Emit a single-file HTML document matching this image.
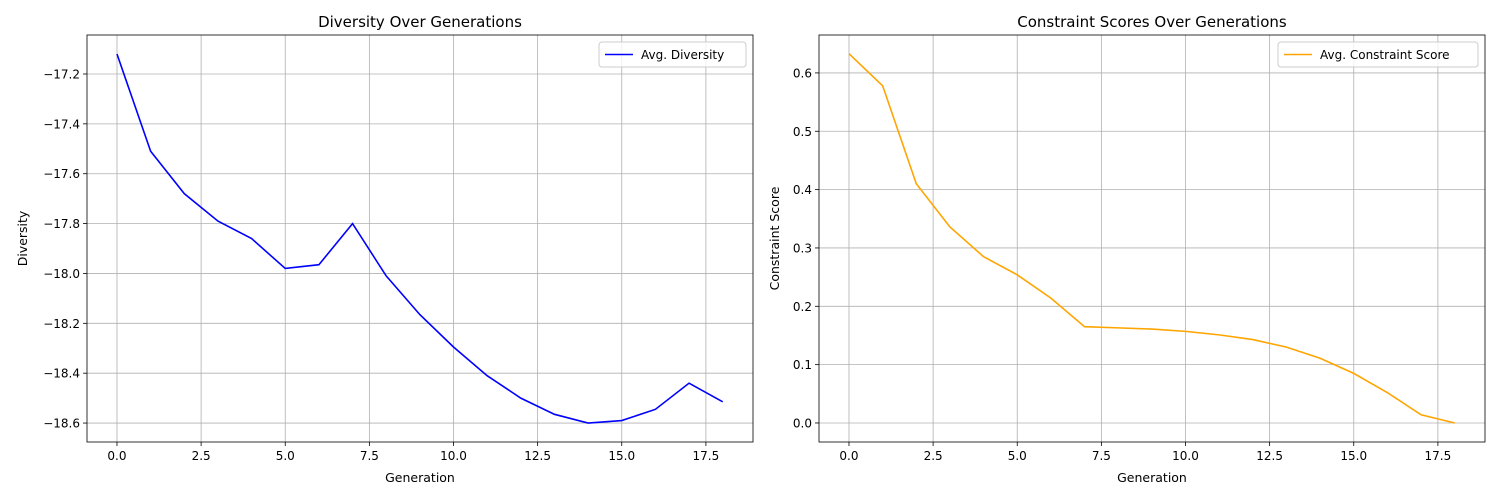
<!DOCTYPE html>
<html><head><meta charset="utf-8"><style>
body{margin:0;background:#fff;}
svg{display:block;font-family:"DejaVu Sans","Liberation Sans",sans-serif;}
</style></head><body>
<svg id="c" width="1500" height="500" viewBox="0 0 1500 500"></svg>
<script>
const generations=[0,1,2,3,4,5,6,7,8,9,10,11,12,13,14,15,16,17,18];
const diversity=[-17.12,-17.51,-17.68,-17.79,-17.86,-17.98,-17.965,-17.80,-18.01,-18.165,-18.295,-18.41,-18.50,-18.565,-18.60,-18.59,-18.545,-18.44,-18.515];
const constraint=[0.633,0.578,0.41,0.336,0.285,0.254,0.214,0.165,0.163,0.161,0.157,0.151,0.143,0.13,0.111,0.085,0.052,0.014,0.0];
const xTicks=[0,2.5,5,7.5,10,12.5,15,17.5];
const divTicks=[-17.2,-17.4,-17.6,-17.8,-18.0,-18.2,-18.4,-18.6];
const conTicks=[0.0,0.1,0.2,0.3,0.4,0.5,0.6];
const NS="http://www.w3.org/2000/svg";
const svg=document.getElementById('c');
function el(t,a,p){const e=document.createElementNS(NS,t);for(const k in a)e.setAttribute(k,a[k]);(p||svg).appendChild(e);return e;}
function panel(o){
  const g=el('g',{});
  
  
  const L=o.x0,R=o.x1,T=35,B=442;
  const sx=v=>L+(v-o.xmin)/(o.xmax-o.xmin)*(R-L);
  const sy=v=>B-(v-o.ymin)/(o.ymax-o.ymin)*(B-T);
  xTicks.forEach(t=>{const x=sx(t);
    const gl=el('line',{x1:x,x2:x,y1:T,y2:B,stroke:'#b0b0b0','stroke-width':0.8},g);
    
    el('line',{x1:x,x2:x,y1:B,y2:B+4,stroke:'#000','stroke-width':0.8},g);
    const tx=el('text',{x:x,y:B+18,'text-anchor':'middle','font-size':12},g);tx.textContent=t.toFixed(1);
    });
  o.yt.forEach(t=>{const y=sy(t);
    const gl=el('line',{x1:L,x2:R,y1:y,y2:y,stroke:'#b0b0b0','stroke-width':0.8},g);
    
    el('line',{x1:L-4,x2:L,y1:y,y2:y,stroke:'#000','stroke-width':0.8},g);
    const tx=el('text',{x:L-7,y:y+4.5,'text-anchor':'end','font-size':12},g);tx.textContent=(t<0?'\u2212'+Math.abs(t).toFixed(1):t.toFixed(1));
    });
  const pts=generations.map((g2,i)=>sx(g2)+','+sy(o.data[i])).join(' ');
  const pl=el('polyline',{points:pts,fill:'none',stroke:o.color,'stroke-width':1.6},g);
  
  const fr=el('rect',{x:L,y:T,width:R-L,height:B-T,fill:'none',stroke:'#000','stroke-width':0.8},g);
  
  const ti=el('text',{x:(L+R)/2,y:27,'text-anchor':'middle','font-size':15},g);ti.textContent=o.title;
  
  const xl=el('text',{x:(L+R)/2,y:482,'text-anchor':'middle','font-size':12.5},g);xl.textContent='Generation';
  
  const yl=el('text',{x:o.ylx,y:(T+B)/2,'text-anchor':'middle','font-size':12.5,transform:`rotate(-90 ${o.ylx} ${(T+B)/2})`},g);yl.textContent=o.ylabel;
  
  const lg=el('g',{},g);
  
  el('rect',{x:o.lx,y:42,width:o.lw,height:25,rx:3,fill:'#fff','fill-opacity':0.8,stroke:'#ccc'},lg);
  el('line',{x1:o.lx+6,x2:o.lx+34,y1:54.5,y2:54.5,stroke:o.color,'stroke-width':1.6},lg);
  const lt=el('text',{x:o.lx+42,y:59,'font-size':12},lg);lt.textContent=o.legend;
  
}
panel({name:'diversity-chart',x0:87,x1:753,xmin:-0.891,xmax:18.9,ymin:-18.676,ymax:-17.0436,yt:divTicks,data:diversity,color:'#0000ff',series:'diversity-line',title:'Diversity Over Generations',ylabel:'Diversity',ylx:27,lx:599,lw:147,legend:'Avg. Diversity'});
panel({name:'constraint-chart',x0:819,x1:1485,xmin:-0.891,xmax:18.9,ymin:-0.0326,ymax:0.665,yt:conTicks,data:constraint,color:'#ffa500',series:'constraint-line',title:'Constraint Scores Over Generations',ylabel:'Constraint Score',ylx:779,lx:1278,lw:200,legend:'Avg. Constraint Score'});
</script>
</body></html>
